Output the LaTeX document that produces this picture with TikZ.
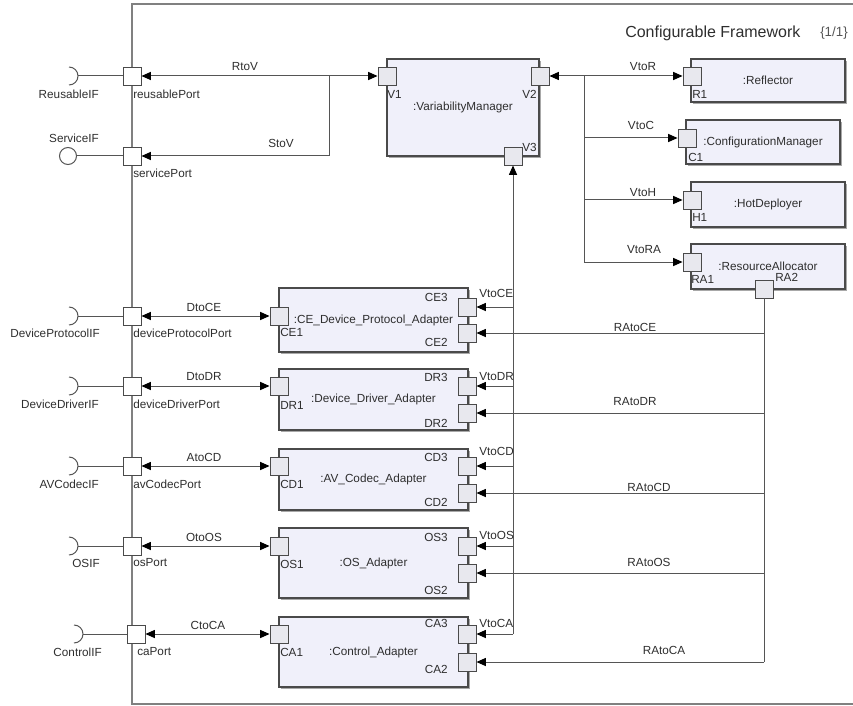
\documentclass[tikz,border=0pt]{standalone}
\usepackage{fontspec}
\setmainfont{Liberation Sans}
\usepackage{xcolor}
\usepackage{tikz}
\usetikzlibrary{arrows.meta,shadows}
\definecolor{lineGrey}{HTML}{555555}
\definecolor{boxGrey}{HTML}{4A4A4A}
\definecolor{frameGrey}{HTML}{808080}
\definecolor{compFill}{HTML}{F0F0FA}
\definecolor{portFill}{HTML}{E8E8EE}
\definecolor{shadowGrey}{HTML}{A8A8A8}
\definecolor{textGrey}{HTML}{2E2E2E}
\tikzset{
  compbox/.style={rectangle, draw=boxGrey, fill=compFill, line width=0.9pt, align=center, font=\fontsize{8.8}{10}\selectfont, text=textGrey, inner sep=0pt, drop shadow={shadow xshift=1.5pt, shadow yshift=-1.5pt, fill=shadowGrey, opacity=1}},
  portbox/.style={rectangle, draw=boxGrey, fill=portFill, line width=0.7pt, minimum size=13.5pt, inner sep=0pt},
  extport/.style={portbox, fill=white},
  ballif/.style={circle, draw=lineGrey, fill=white, line width=0.75pt, minimum size=12.75pt, inner sep=0pt},
  portlabel/.style={font=\fontsize{8.8}{10}\selectfont, text=textGrey, inner sep=0pt},
  connlabel/.style={portlabel},
  titlelabel/.style={font=\fontsize{12}{14}\selectfont, text=textGrey, inner sep=0pt, anchor=west},
  conn/.style={draw=lineGrey, line width=0.75pt},
  flowarrow/.style={conn, -{Triangle[length=7pt,width=6pt,color=black]}},
  biarrow/.style={conn, {Triangle[length=7pt,width=6pt,color=black]}-{Triangle[length=7pt,width=6pt,color=black]}},
  frameline/.style={draw=frameGrey, line width=1.4pt},
}
\begin{document}
\begin{tikzpicture}[x=0.75pt,y=-0.75pt]
  \useasboundingbox (0,0) rectangle (853,706);
  \draw[frameline] (870,4) -- (132,4) -- (132,704) -- (870,704);
  \node[titlelabel] (title) at (625,33) {Configurable Framework};
  \node[titlelabel, font=\fontsize{10}{12}\selectfont, text=lineGrey] (page) at (820,33) {\{1/1\}};

  \node[compbox, minimum width=114pt, minimum height=72.75pt] (vm) at (463,107.5) {:VariabilityManager};
  \node[compbox, minimum width=115.5pt, minimum height=32.25pt] (refl) at (768,80.5) {:Reflector};
  \node[compbox, minimum width=115.5pt, minimum height=33pt] (conf) at (763,142) {:ConfigurationManager};
  \node[compbox, minimum width=115.5pt, minimum height=33.75pt] (hot) at (768,204.5) {:HotDeployer};
  \node[compbox, minimum width=115.5pt, minimum height=33.75pt] (ra) at (768,266.5) {:ResourceAllocator};

  \node[compbox, minimum width=141.75pt, minimum height=48pt] (ce) at (373.5,320) {:CE\_Device\_Protocol\_Adapter};
  \node[compbox, minimum width=141.75pt, minimum height=45.75pt] (dr) at (373.5,399.5) {:Device\_Driver\_Adapter};
  \node[compbox, minimum width=141.75pt, minimum height=45.75pt] (cd) at (373.5,479.5) {:AV\_Codec\_Adapter};
  \node[compbox, minimum width=141.75pt, minimum height=52.5pt] (os) at (373.5,563) {:OS\_Adapter};
  \node[compbox, minimum width=141.75pt, minimum height=52.5pt] (ca) at (373.5,652) {:Control\_Adapter};

  \node[extport] (rp) at (132,76) {};
  \node[extport] (sp) at (132,156) {};
  \node[extport] (dpp) at (132,316) {};
  \node[extport] (ddp) at (132,386) {};
  \node[extport] (acp) at (132,466) {};
  \node[extport] (osp) at (132,546) {};
  \node[extport] (cap) at (136,634) {};

  \node[portbox] (v1) at (387,76) {};
  \node[portbox] (v2) at (540,76) {};
  \node[portbox] (v3) at (513,156) {};
  \node[portbox] (r1) at (692,76) {};
  \node[portbox] (c1) at (687,138) {};
  \node[portbox] (h1) at (692,200) {};
  \node[portbox] (ra1) at (692,262) {};
  \node[portbox] (ra2) at (764,289) {};

  \node[portbox] (ce1) at (279,316) {};
  \node[portbox] (ce3) at (467,307) {};
  \node[portbox] (ce2) at (467,333) {};
  \node[portbox] (dr1) at (279,386) {};
  \node[portbox] (dr3) at (467,386) {};
  \node[portbox] (dr2) at (467,413) {};
  \node[portbox] (cd1) at (279,466) {};
  \node[portbox] (cd3) at (467,466) {};
  \node[portbox] (cd2) at (467,493) {};
  \node[portbox] (os1) at (279,546) {};
  \node[portbox] (os3) at (467,546) {};
  \node[portbox] (os2) at (467,573) {};
  \node[portbox] (ca1) at (279,634) {};
  \node[portbox] (ca3) at (467,634) {};
  \node[portbox] (ca2) at (467,662) {};

  \coordinate (rif) at (78,76);
  \coordinate (dpif) at (78,316);
  \coordinate (ddif) at (78,386);
  \coordinate (acif) at (78,466);
  \coordinate (osif) at (78,546);
  \coordinate (caif) at (83,634);
  \node[ballif] (sif) at (68,156) {};
  \foreach \s in {rif,dpif,ddif,acif,osif,caif} { \draw[conn] (\s) ++(-9,-9) arc[start angle=-90, end angle=90, radius=9]; }
  \foreach \s/\p in {rif/rp,sif/sp,dpif/dpp,ddif/ddp,acif/acp,osif/osp,caif/cap} { \draw[conn] (\s) -- (\p); }

  \node[portlabel, anchor=east] (lrif) at (99,94) {ReusableIF};
  \node[portlabel, anchor=east] (lsif) at (99,138) {ServiceIF};
  \node[portlabel, anchor=east] (ldpif) at (100,333) {DeviceProtocolIF};
  \node[portlabel, anchor=east] (lddif) at (99,404) {DeviceDriverIF};
  \node[portlabel, anchor=east] (lacif) at (99,484) {AVCodecIF};
  \node[portlabel, anchor=east] (losif) at (100,563) {OSIF};
  \node[portlabel, anchor=east] (lcaif) at (102,652) {ControlIF};

  \node[portlabel, anchor=west] (lrp) at (133,94) {reusablePort};
  \node[portlabel, anchor=west] (lsp) at (133,173) {servicePort};
  \node[portlabel, anchor=west] (ldpp) at (133,333) {deviceProtocolPort};
  \node[portlabel, anchor=west] (lddp) at (133,404) {deviceDriverPort};
  \node[portlabel, anchor=west] (lacp) at (133,484) {avCodecPort};
  \node[portlabel, anchor=west] (losp) at (133,563) {osPort};
  \node[portlabel, anchor=west] (lcap) at (137,652) {caPort};

  \node[portlabel, anchor=west] (lv1) at (387,94) {V1};
  \node[portlabel, anchor=east] (lv2) at (537,94) {V2};
  \node[portlabel, anchor=west] (lv3) at (522,147) {V3};
  \node[portlabel, anchor=west] (lr1) at (692,94) {R1};
  \node[portlabel, anchor=west] (lc1) at (688,157) {C1};
  \node[portlabel, anchor=west] (lh1) at (692,217) {H1};
  \node[portlabel, anchor=west] (lra1) at (691,279) {RA1};
  \node[portlabel, anchor=west] (lra2) at (775,277) {RA2};

  \node[portlabel, anchor=east] (lce3) at (448,297) {CE3};
  \node[portlabel, anchor=east] (lce2) at (448,342) {CE2};
  \node[portlabel, anchor=west] (lce1) at (280,332) {CE1};
  \node[portlabel, anchor=east] (ldr3) at (448,377) {DR3};
  \node[portlabel, anchor=east] (ldr2) at (448,423) {DR2};
  \node[portlabel, anchor=west] (ldr1) at (280,405) {DR1};
  \node[portlabel, anchor=east] (lcd3) at (448,457) {CD3};
  \node[portlabel, anchor=east] (lcd2) at (448,502) {CD2};
  \node[portlabel, anchor=west] (lcd1) at (280,484) {CD1};
  \node[portlabel, anchor=east] (los3) at (448,537) {OS3};
  \node[portlabel, anchor=east] (los2) at (448,590) {OS2};
  \node[portlabel, anchor=west] (los1) at (280,564) {OS1};
  \node[portlabel, anchor=east] (lca3) at (448,623) {CA3};
  \node[portlabel, anchor=east] (lca2) at (448,669) {CA2};
  \node[portlabel, anchor=west] (lca1) at (280,652) {CA1};

  \coordinate (rj) at (329,76);
  \coordinate (vj) at (584,76);
  \draw[biarrow] (rp) -- (v1);
  \draw[flowarrow] (rj) |- (sp);
  \foreach \a/\b in {dpp/ce1,ddp/dr1,acp/cd1,osp/os1,cap/ca1} { \draw[biarrow] (\a) -- (\b); }
  \draw[biarrow] (v2) -- (r1);
  \foreach \p in {c1,h1,ra1} { \draw[flowarrow] (vj) |- (\p); }
  \draw[flowarrow] (v3 |- ca3) -- (v3);
  \foreach \p in {ce3,dr3,cd3,os3,ca3} { \draw[flowarrow] (v3 |- \p) -- (\p); }
  \draw[conn] (ra2) -- (ra2 |- ca2);
  \foreach \p in {ce2,dr2,cd2,os2,ca2} { \draw[flowarrow] (ra2 |- \p) -- (\p); }

  \node[connlabel] (lrtov) at (245,67) {RtoV};
  \node[connlabel] (lstov) at (281,143) {StoV};
  \node[connlabel] (ldtoce) at (204,307) {DtoCE};
  \node[connlabel] (ldtodr) at (204,377) {DtoDR};
  \node[connlabel] (latocd) at (204,457) {AtoCD};
  \node[connlabel] (lotoos) at (204,537) {OtoOS};
  \node[connlabel] (lctoca) at (208,625) {CtoCA};
  \node[connlabel] (lvtor) at (643,67) {VtoR};
  \node[connlabel] (lvtoc) at (641,125) {VtoC};
  \node[connlabel] (lvtoh) at (643,193) {VtoH};
  \node[connlabel] (lvtora) at (644,250) {VtoRA};
  \node[connlabel, anchor=west] (lvtoce) at (479,293) {VtoCE};
  \node[connlabel, anchor=west] (lvtodr) at (479,377) {VtoDR};
  \node[connlabel, anchor=west] (lvtocd) at (479,451) {VtoCD};
  \node[connlabel, anchor=west] (lvtoos) at (479,535) {VtoOS};
  \node[connlabel, anchor=west] (lvtoca) at (479,623) {VtoCA};
  \node[connlabel] (lratoce) at (635,327) {RAtoCE};
  \node[connlabel] (lratodr) at (635,402) {RAtoDR};
  \node[connlabel] (lratocd) at (649,487) {RAtoCD};
  \node[connlabel] (lratoos) at (649,562) {RAtoOS};
  \node[connlabel] (lratoca) at (664,650) {RAtoCA};
\end{tikzpicture}
\end{document}
